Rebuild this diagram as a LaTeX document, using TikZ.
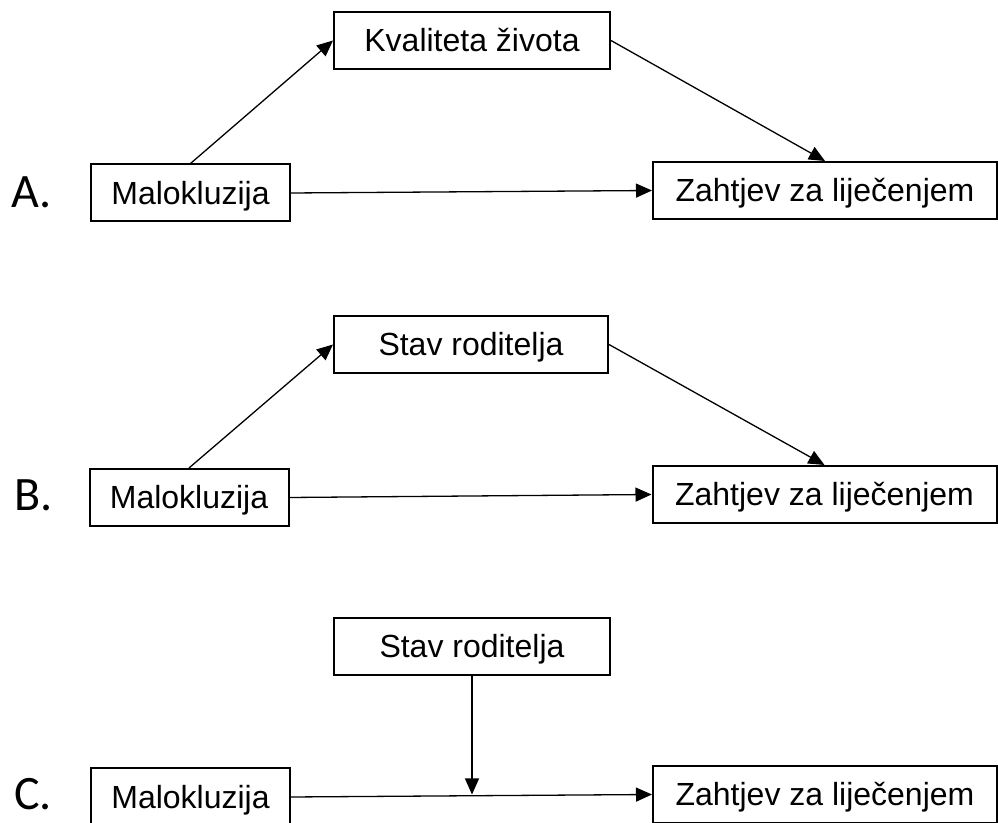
\documentclass[tikz,border=0pt]{standalone}
\usepackage{fontspec}
\setmainfont{Liberation Sans}
\newfontfamily\letterfont{Carlito}
\usetikzlibrary{arrows.meta}
\begin{document}
\begin{tikzpicture}[x=0.5pt,y=-0.5pt,
        box/.style={draw, line width=1pt, inner sep=0pt, minimum height=28.5pt,
            text height=11.5pt, text depth=0pt,
            font=\fontsize{16}{19}\selectfont},
        panel/.style={anchor=base west, inner sep=0pt,
            font=\letterfont\fontsize{24}{28}\selectfont},
        arr/.style={line width=0.65pt, -{Triangle[length=8pt,width=7pt]}}]
        \useasboundingbox (0,0) rectangle (998,823);

        % A
        \node[panel] (labA) at (11,208) {A.};
        \node[box, minimum width=138pt] (kvalA) at (472,40.5) {Kvaliteta života};
        \node[box, minimum width=99.5pt] (malA) at (190.5,193) {Malokluzija};
        \node[box, minimum width=172pt] (zahA) at (825,190.5) {Zahtjev za liječenjem};
        \draw[arr] (malA.north) -- (kvalA.west);
        \draw[arr] (kvalA.east) -- (zahA.north);
        \draw[arr] (malA.east) -- (zahA.west);

        % B
        \node[panel] (labB) at (14,511) {B.};
        \node[box, minimum width=137pt] (stavB) at (471,344.5) {Stav roditelja};
        \node[box, minimum width=99.5pt] (malB) at (189,497.5) {Malokluzija};
        \node[box, minimum width=172pt] (zahB) at (824.5,494.5) {Zahtjev za liječenjem};
        \draw[arr] (malB.north) -- (stavB.west);
        \draw[arr] (stavB.east) -- (zahB.north);
        \draw[arr] (malB.east) -- (zahB.west);

        % C
        \node[panel] (labC) at (14,810) {C.};
        \node[box, minimum width=138pt] (stavC) at (472,646.5) {Stav roditelja};
        \node[box, minimum width=99.5pt] (malC) at (190.5,797) {Malokluzija};
        \node[box, minimum width=172pt] (zahC) at (825,794.5) {Zahtjev za liječenjem};
        \draw[arr] (malC.east) -- (zahC.west);
        \coordinate (cutC) at (stavC.south |- zahC.west);
        \draw[arr] (stavC.south) -- (cutC);
    \end{tikzpicture}
\end{document}
